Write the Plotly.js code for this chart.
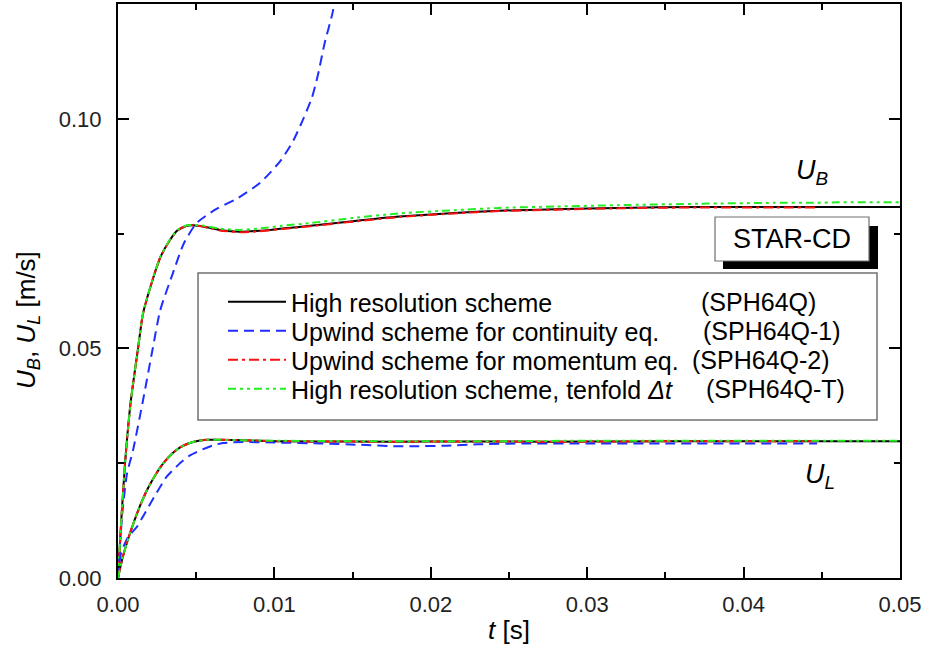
<!DOCTYPE html>
<html>
<head>
<meta charset="utf-8">
<script src="https://cdn.plot.ly/plotly-3.0.1.min.js"></script>
<style>html,body{margin:0;padding:0;background:#fff;}#chart{width:927px;height:653px;}</style>
</head>
<body>
<div id="chart"></div>
<script>
// ---- data (t in s, velocity in m/s) ----
const seriesNames = ["High resolution scheme", "Upwind scheme for continuity eq.", "Upwind scheme for momentum eq.", "High resolution scheme, tenfold <i>\u0394t</i>"];
const seriesCodes = ["(SPH64Q)", "(SPH64Q-1)", "(SPH64Q-2)", "(SPH64Q-T)"];

// U_B curves
const tUB = [0, 0.0002, 0.00045, 0.0008, 0.00128, 0.0016, 0.0022, 0.0027, 0.0033, 0.0038, 0.0044, 0.0048, 0.0055, 0.0065, 0.0078, 0.009, 0.0105, 0.0123, 0.015, 0.018, 0.0215, 0.0244, 0.028, 0.032, 0.0372, 0.042, 0.0447, 0.046, 0.05];
const UB_hr  = [0, 0.012, 0.025, 0.038, 0.050, 0.0576, 0.0648, 0.0698, 0.0735, 0.0757, 0.0767, 0.0768, 0.0765, 0.0758, 0.0754, 0.0756, 0.0761, 0.0767, 0.0777, 0.0787, 0.0795, 0.0800, 0.0803, 0.0806, 0.0808, 0.0808, 0.0808, 0.0808, 0.0808];
const UB_mom = [0, 0.012, 0.025, 0.038, 0.050, 0.0576, 0.0648, 0.0698, 0.0735, 0.0757, 0.0767, 0.0768, 0.0765, 0.0757, 0.0753, 0.0755, 0.0760, 0.0766, 0.0776, 0.0786, 0.0794, 0.0799, 0.0802, 0.0805, 0.0807, 0.0807, 0.0807, null, null];
const UB_tdt = [0, 0.012, 0.025, 0.038, 0.050, 0.0577, 0.0649, 0.0699, 0.0736, 0.0758, 0.0768, 0.0769, 0.0767, 0.0761, 0.0758, 0.0761, 0.0767, 0.0773, 0.0784, 0.0794, 0.0801, 0.0806, 0.0809, 0.0812, 0.0815, 0.0817, 0.0817, 0.0818, 0.0818];
const tUB_up = [0, 0.0001, 0.0003, 0.00058, 0.00096, 0.0016, 0.0022, 0.0027, 0.0035, 0.0042, 0.005, 0.0063, 0.0076, 0.0091, 0.0104, 0.0112, 0.0118, 0.0124, 0.0128, 0.0132, 0.0137, 0.0140];
const UB_up  = [0, 0.006, 0.015, 0.0228, 0.0278, 0.0387, 0.0496, 0.0583, 0.0663, 0.0728, 0.0772, 0.0804, 0.0826, 0.0861, 0.0909, 0.0952, 0.0996, 0.1046, 0.1098, 0.1163, 0.1228, 0.1280];

// U_L curves
const tUL = [0, 0.0003, 0.00077, 0.0013, 0.00185, 0.0024, 0.0029, 0.0035, 0.004, 0.0045, 0.005, 0.0057, 0.0065, 0.008, 0.01, 0.015, 0.02, 0.025, 0.03, 0.035, 0.04, 0.0447, 0.05];
const UL_hr  = [0, 0.0045, 0.0098, 0.0148, 0.0191, 0.0225, 0.0250, 0.0272, 0.0285, 0.0293, 0.0298, 0.0301, 0.0301, 0.0300, 0.0298, 0.0297, 0.0297, 0.0297, 0.0297, 0.0298, 0.0298, 0.0298, 0.0298];
const UL_mom = [0, 0.0045, 0.0098, 0.0148, 0.0191, 0.0225, 0.0250, 0.0272, 0.0285, 0.0293, 0.0298, 0.0301, 0.0301, 0.0300, 0.0298, 0.0297, 0.0297, 0.0297, 0.0297, 0.0298, 0.0298, 0.0298, null];
const UL_tdt = [0, 0.0045, 0.0098, 0.0148, 0.0191, 0.0225, 0.0250, 0.0272, 0.0285, 0.0293, 0.0298, 0.0301, 0.0301, 0.0300, 0.0299, 0.0298, 0.0298, 0.0298, 0.0299, 0.0299, 0.0299, 0.0299, 0.0299];
const tUL_up = [0, 0.0002, 0.00064, 0.0012, 0.0017, 0.0022, 0.0031, 0.0039, 0.0046, 0.0054, 0.0061, 0.0067, 0.008, 0.01, 0.013, 0.0155, 0.0178, 0.019, 0.021, 0.023, 0.026, 0.03, 0.035, 0.04, 0.0447];
const UL_up  = [0, 0.0055, 0.0089, 0.0111, 0.0140, 0.0170, 0.0220, 0.0248, 0.0267, 0.0280, 0.0289, 0.0294, 0.0296, 0.0295, 0.0293, 0.0290, 0.0287, 0.0287, 0.0288, 0.0291, 0.0293, 0.0293, 0.0293, 0.0293, 0.0293];

const xTickVals = [0, 0.01, 0.02, 0.03, 0.04, 0.05];
const yTickVals = [0, 0.05, 0.10];

// ---- styles ----
const colors = ["#000000", "#1f2fff", "#ff1010", "#22ee22"];
const dashes = ["solid", "10px,6px", "10px,4px,3px,4px", "8px,4px,3px,4px,3px,4px"];
const FONT = "Liberation Sans, Arial, sans-serif";
const legendIds = ["legend", "legend2", "legend3", "legend4"];

function tr(x, y, i, leg) {
  return {x: x, y: y, type: "scatter", mode: "lines", name: seriesNames[i],
    showlegend: leg, legend: legendIds[i], connectgaps: false,
    line: {color: colors[i], width: 2, dash: dashes[i], shape: "spline", smoothing: 0.6},
    hoverinfo: "skip"};
}
const traces = [
  tr(tUB, UB_hr, 0, true), tr(tUB_up, UB_up, 1, true), tr(tUB, UB_mom, 2, true), tr(tUB, UB_tdt, 3, true),
  tr(tUL, UL_hr, 0, false), tr(tUL_up, UL_up, 1, false), tr(tUL, UL_mom, 2, false), tr(tUL, UL_tdt, 3, false),
  // empty carrier trace for the mirrored top/right tick axes
  {x: [], y: [], xaxis: "x2", yaxis: "y2", type: "scatter", mode: "lines", showlegend: false, hoverinfo: "skip"}
];

const L = 118, T = 4, W = 782, H = 574;
const px = v => (v - L) / W;
const py = v => (T + H - v) / H;

const rowY = [302, 331, 360, 389];
const codeX = [699, 701, 690, 704];
const annotations = seriesCodes.map((c, i) => ({
  xref: "paper", yref: "paper", x: px(codeX[i]), y: py(rowY[i]), xanchor: "left", yanchor: "middle",
  text: c, showarrow: false, font: {family: FONT, size: 25, color: "#000"}
}));
annotations.push(
  {xref: "paper", yref: "paper", x: px(792), y: py(239), text: "STAR-CD", showarrow: false,
   xanchor: "center", yanchor: "middle", font: {family: FONT, size: 27, color: "#000"}},
  {xref: "paper", yref: "paper", x: px(812), y: py(172), text: "<i>U</i><sub><i>B</i></sub>", showarrow: false,
   xanchor: "center", yanchor: "middle", font: {family: FONT, size: 27, color: "#000"}},
  {xref: "paper", yref: "paper", x: px(820), y: py(476), text: "<i>U</i><sub><i>L</i></sub>", showarrow: false,
   xanchor: "center", yanchor: "middle", font: {family: FONT, size: 27, color: "#000"}},
  {xref: "paper", yref: "paper", x: px(28), y: py(320), text: "<i>U</i><sub><i>B</i></sub>, <i>U</i><sub><i>L</i></sub> [m/s]",
   textangle: -90, showarrow: false, xanchor: "center", yanchor: "middle", font: {family: FONT, size: 26, color: "#000"}}
);

const shapes = [
  {type: "rect", xref: "paper", yref: "paper", x0: px(198), x1: px(877), y0: py(420), y1: py(273),
   line: {color: "#707070", width: 1.5}, fillcolor: "#ffffff", layer: "below"},
  {type: "rect", xref: "paper", yref: "paper", x0: px(723), x1: px(878), y0: py(269), y1: py(226),
   line: {width: 0}, fillcolor: "#000000", layer: "above"},
  {type: "rect", xref: "paper", yref: "paper", x0: px(715), x1: px(869), y0: py(261), y1: py(217),
   line: {color: "#707070", width: 1.2}, fillcolor: "#ffffff", layer: "above"}
];

const axisCommon = {
  showline: true, linewidth: 2, linecolor: "#000", mirror: true, ticks: "inside",
  ticklen: 11, tickwidth: 2, tickcolor: "#000", showgrid: false, zeroline: false,
  tickfont: {family: FONT, size: 22, color: "#222"}, tickformat: ".2f"
};
const xMinor = {dtick: 0.005, tick0: 0, ticks: "inside", ticklen: 6, tickwidth: 2, tickcolor: "#000", showgrid: false};
const yMinor = {dtick: 0.025, tick0: 0, ticks: "inside", ticklen: 6, tickwidth: 2, tickcolor: "#000", showgrid: false};

const legends = {};
legendIds.forEach((id, i) => {
  legends[id] = {x: px(223), y: py(rowY[i]), xanchor: "left", yanchor: "middle", bgcolor: "rgba(0,0,0,0)",
    borderwidth: 0, font: {family: FONT, size: 25, color: "#000"}, itemwidth: 58,
    itemclick: false, itemdoubleclick: false};
});

const layout = Object.assign({
  width: 927, height: 653,
  margin: {l: L, r: 927 - L - W, t: T, b: 653 - T - H},
  paper_bgcolor: "#fff", plot_bgcolor: "rgba(0,0,0,0)",
  font: {family: FONT, color: "#000"},
  xaxis: Object.assign({}, axisCommon, {
    range: [0, 0.05], tickmode: "array", tickvals: xTickVals, minor: xMinor,
    title: {text: "<i>t</i> [s]", font: {family: FONT, size: 26, color: "#000"}, standoff: 4},
    ticklabelstandoff: 6
  }),
  yaxis: Object.assign({}, axisCommon, {
    range: [0, 0.125], tickmode: "array", tickvals: yTickVals, minor: yMinor,
    ticklabelstandoff: 10
  }),
  xaxis2: {overlaying: "x", side: "top", anchor: "y2", range: [0, 0.05], tickmode: "array", tickvals: xTickVals,
    ticks: "inside", ticklen: 11, tickwidth: 2, tickcolor: "#000", showticklabels: false, showgrid: false,
    zeroline: false, showline: false, minor: xMinor},
  yaxis2: {overlaying: "y", side: "right", anchor: "x2", range: [0, 0.125], tickmode: "array", tickvals: yTickVals,
    ticks: "inside", ticklen: 11, tickwidth: 2, tickcolor: "#000", showticklabels: false, showgrid: false,
    zeroline: false, showline: false, minor: yMinor},
  showlegend: true,
  shapes: shapes, annotations: annotations
}, legends);

Plotly.newPlot("chart", traces, layout, {staticPlot: true, displayModeBar: false});
</script>
</body>
</html>
